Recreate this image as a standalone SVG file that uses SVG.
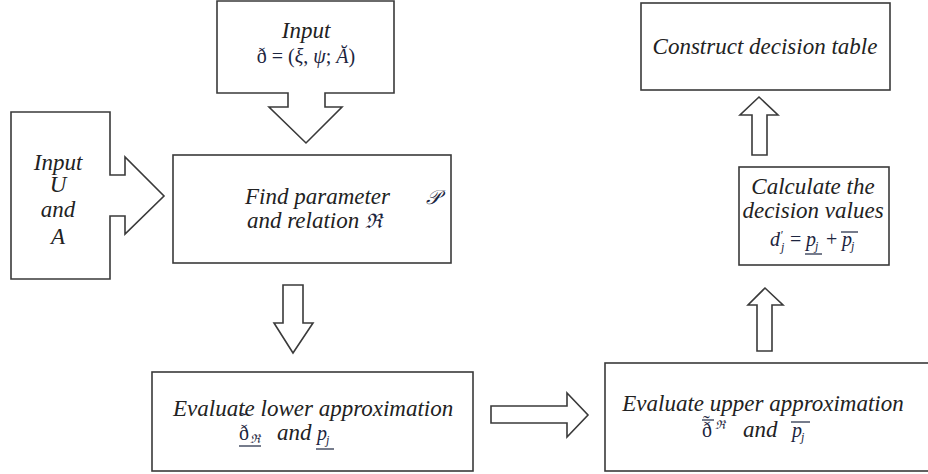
<svg xmlns="http://www.w3.org/2000/svg" width="928" height="474" viewBox="0 0 928 474">
<style>
.shape{fill:#fff;stroke:#3a3a3a;stroke-width:1.6}
.t{font-family:"Liberation Serif","DejaVu Serif",serif;font-style:italic;font-size:23px;fill:#222}
.m{font-family:"Liberation Serif","DejaVu Serif",serif;font-size:20px;fill:#1c2540}
.mi{font-family:"Liberation Serif","DejaVu Serif",serif;font-style:italic;font-size:20px;fill:#1c2540}
.s{font-family:"Liberation Serif","DejaVu Serif",serif;font-style:italic;font-size:12px;fill:#1c2540}
.bar{stroke:#1c2540;stroke-width:1.2}
</style>
<rect width="928" height="474" fill="#fff"/>
<g id="connectors">
<path class="shape" d="M283,285 H303 V323 H313 L293,353 L274,323 H283 Z"/>
<path class="shape" d="M491,406 H567 V393 L588,415 L567,437 V423 H491 Z"/>
<path class="shape" d="M757,351 V305 H748 L765,288 L783,305 H772 V351 Z"/>
<path class="shape" d="M752,155 V115 H740 L759,97 L778,115 H767 V155 Z"/>
</g>
<g id="input-soft-set">
<path class="shape" d="M217,1 H394 V93 H325 V107 H342 L306,143 L269,107 H288 V93 H217 Z"/>
<text class="t" x="306" y="38" text-anchor="middle" font-size="21">Input</text>
<text x="306" y="63" text-anchor="middle"><tspan class="m" font-size="22">ð = (</tspan><tspan class="mi" font-size="22">ξ</tspan><tspan class="m" font-size="22">, </tspan><tspan class="mi" font-size="22">ψ</tspan><tspan class="m" font-size="22">; </tspan><tspan class="mi" font-size="22">Ă</tspan><tspan class="m" font-size="22">)</tspan></text>
</g>
<g id="input-u-a">
<path class="shape" d="M11,112 H110 V175 H125 V157 L164,196 L125,234 V216 H110 V279 H11 Z"/>
<text class="t" x="58" y="170" text-anchor="middle">Input</text>
<text class="t" x="58" y="192" text-anchor="middle">U</text>
<text class="t" x="58" y="217" text-anchor="middle">and</text>
<text class="t" x="58" y="244" text-anchor="middle">A</text>
</g>
<g id="find-parameter">
<rect class="shape" x="173" y="155" width="278" height="108"/>
<text class="t" x="245" y="204">Find parameter</text>
<text class="mi" x="426" y="204" font-family="DejaVu Serif" font-size="18">𝒫</text>
<text class="t" x="247" y="228">and relation <tspan class="m">ℜ</tspan></text>
</g>
<g id="lower-approximation">
<rect class="shape" x="152" y="372" width="321" height="99"/>
<text class="t" x="173" y="416">Evaluate lower approximation</text>
<text class="m" x="240" y="427" font-size="16">˜</text>
<text class="m" x="239" y="440">ð</text>
<text class="s" x="250" y="443">ℜ</text>
<line class="bar" x1="239" y1="446" x2="261" y2="446"/>
<text class="t" x="277" y="440" font-size="17">and</text>
<text class="mi" x="317" y="440" font-size="18">p</text>
<text class="s" x="326" y="444">j</text>
<line class="bar" x1="316" y1="449" x2="334" y2="449"/>
</g>
<g id="upper-approximation">
<rect class="shape" x="605" y="363" width="326" height="108"/>
<text class="t" x="763" y="411" text-anchor="middle" font-size="23.5">Evaluate upper approximation</text>
<line class="bar" x1="702" y1="420" x2="714" y2="420"/>
<text class="m" x="703" y="430" font-size="14">˜</text>
<text class="m" x="702" y="437">ð</text>
<text class="s" x="715" y="429">ℜ</text>
<text class="t" x="743" y="437" font-size="17">and</text>
<line class="bar" x1="791" y1="422" x2="810" y2="422"/>
<text class="mi" x="792" y="437" font-size="18">p</text>
<text class="s" x="801" y="441">j</text>
</g>
<g id="decision-values">
<rect class="shape" x="739" y="167" width="150" height="98"/>
<text class="t" x="813" y="194" text-anchor="middle" font-size="19">Calculate the</text>
<text class="t" x="813" y="218" text-anchor="middle" font-size="19">decision values</text>
<text class="mi" x="770" y="246" font-size="18">d</text>
<text class="s" x="780" y="239" font-style="normal" font-size="11">′</text>
<text class="s" x="781" y="251" font-size="11">j</text>
<text class="m" x="790" y="246" font-size="18">=</text>
<text class="mi" x="806" y="246" font-size="18">p</text>
<text class="s" x="815" y="250" font-size="11">j</text>
<line class="bar" x1="805" y1="254" x2="822" y2="254"/>
<text class="m" x="826" y="246" font-size="18">+</text>
<text class="mi" x="842" y="246" font-size="18">p</text>
<text class="s" x="851" y="250" font-size="11">j</text>
<line class="bar" x1="841" y1="232" x2="858" y2="232"/>
</g>
<g id="decision-table">
<rect class="shape" x="641" y="3" width="249" height="87"/>
<text class="t" x="765" y="54" text-anchor="middle">Construct decision table</text>
</g>
</svg>
